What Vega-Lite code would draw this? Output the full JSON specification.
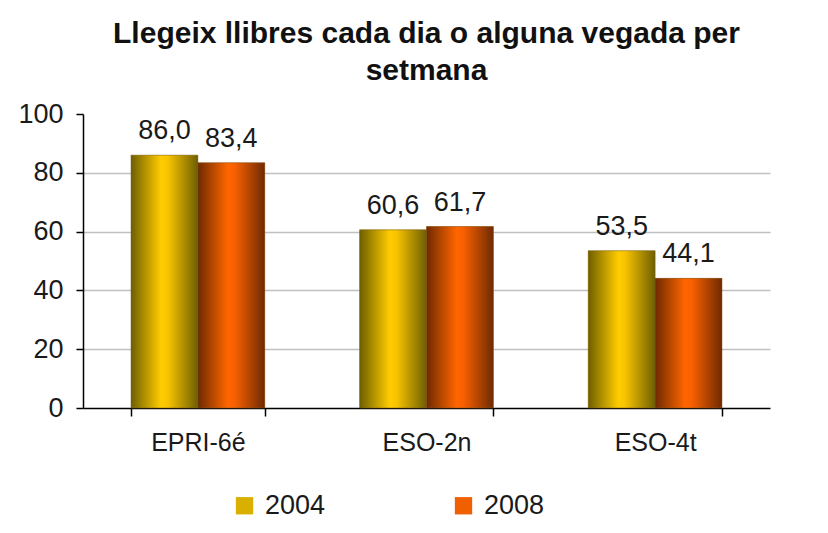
{
  "$schema": "https://vega.github.io/schema/vega-lite/v6.json",
  "width": 687,
  "height": 294,
  "padding": {"left": 17, "top": 19, "right": 10, "bottom": 10},
  "background": "white",
  "title": {
    "text": ["Llegeix llibres cada dia o alguna vegada per", "setmana"],
    "font": "Liberation Sans",
    "fontSize": 30,
    "fontWeight": "bold",
    "color": "#111111",
    "lineHeight": 37,
    "anchor": "middle",
    "offset": 14
  },
  "config": {
    "locale": {"number": {"decimal": ",", "thousands": ".", "grouping": [3], "currency": ["", " €"]}},
    "view": {"stroke": null},
    "font": "Liberation Sans",
    "axis": {"labelFont": "Liberation Sans", "labelColor": "#1a1a1a"}
  },
  "data": {
    "values": [
      {"grup": "EPRI-6é", "year": "2004", "value": 86.0},
      {"grup": "EPRI-6é", "year": "2008", "value": 83.4},
      {"grup": "ESO-2n", "year": "2004", "value": 60.6},
      {"grup": "ESO-2n", "year": "2008", "value": 61.7},
      {"grup": "ESO-4t", "year": "2004", "value": 53.5},
      {"grup": "ESO-4t", "year": "2008", "value": 44.1}
    ]
  },
  "encoding": {
    "x": {
      "field": "grup", "type": "nominal", "sort": null,
      "scale": {"paddingInner": 0.415, "paddingOuter": 0.21},
      "axis": {
        "title": null, "labelAngle": 0, "labelFontSize": 25, "labelPadding": 14,
        "domainColor": "#000000", "domainWidth": 1.5, "tickColor": "#000000", "tickWidth": 1.5,
        "tickBand": "extent", "tickSize": 8, "grid": false
      }
    },
    "xOffset": {"field": "year", "type": "nominal"},
    "y": {
      "field": "value", "type": "quantitative",
      "scale": {"domain": [0, 100], "nice": false},
      "axis": {
        "title": null, "values": [0, 20, 40, 60, 80, 100], "labelFontSize": 27,
        "labelPadding": 13, "tickSize": 7, "tickColor": "#000000", "tickWidth": 1.5,
        "domainColor": "#000000", "domainWidth": 1.5,
        "grid": true,
        "gridColor": {"condition": {"test": "datum.value === 100 || datum.value === 0", "value": "transparent"}, "value": "#c0c0c0"},
        "gridWidth": 1.5
      }
    }
  },
  "layer": [
    {
      "mark": {"type": "bar"},
      "encoding": {
        "color": {
          "field": "year", "type": "nominal",
          "scale": {"domain": ["2004", "2008"], "range": ["#d9b000", "#f06000"]},
          "legend": {
            "title": null, "orient": "none", "legendX": 148, "legendY": 378, "direction": "horizontal",
            "symbolType": "square", "symbolSize": 300, "symbolStrokeWidth": 0,
            "labelFontSize": 27, "labelFont": "Liberation Sans", "labelColor": "#1a1a1a",
            "columnPadding": 124, "labelOffset": 7
          }
        }
      }
    },
    {
      "mark": {"type": "bar", "stroke": "#7a5a20", "strokeWidth": 0.5},
      "encoding": {
        "fill": {
          "condition": {
            "test": "datum.year === '2004'",
            "value": {"gradient": "linear", "x1": 0, "y1": 0, "x2": 1, "y2": 0,
              "stops": [{"offset": 0, "color": "#6e5f00"}, {"offset": 0.45, "color": "#ffcc00"}, {"offset": 0.55, "color": "#f8c400"}, {"offset": 1, "color": "#6e5f00"}]}
          },
          "value": {"gradient": "linear", "x1": 0, "y1": 0, "x2": 1, "y2": 0,
            "stops": [{"offset": 0, "color": "#6e2a00"}, {"offset": 0.45, "color": "#ff6600"}, {"offset": 0.55, "color": "#f86000"}, {"offset": 1, "color": "#6e2a00"}]}
        }
      }
    },
    {
      "mark": {"type": "text", "baseline": "alphabetic", "dy": -16, "fontSize": 27, "font": "Liberation Sans", "color": "#1a1a1a"},
      "encoding": {
        "text": {"field": "value", "type": "quantitative", "format": ".1f"}
      }
    }
  ]
}
